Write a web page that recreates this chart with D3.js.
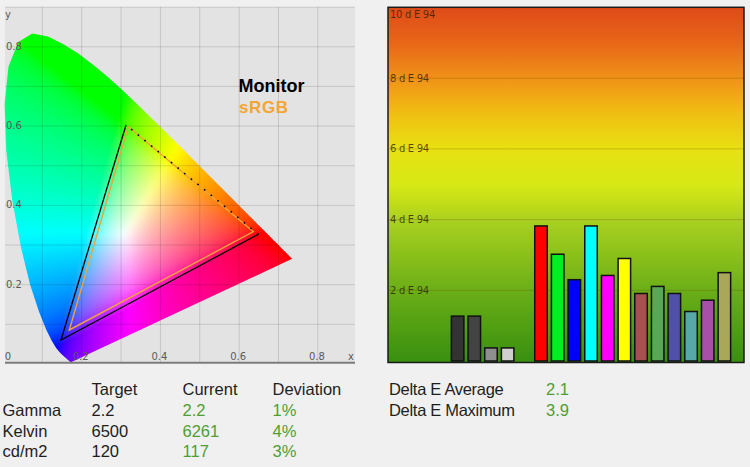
<!DOCTYPE html>
<html><head><meta charset="utf-8">
<script src="https://cdn.jsdelivr.net/npm/d3@7"></script>
<style>
html,body{margin:0;padding:0;background:#f0f0f0;}
svg{display:block;}
</style></head>
<body>
<svg id="c" width="750" height="467"></svg>
<script>
// ---------- DATA ----------
// CIE 1931 2° spectral locus (380–700 nm, 5 nm steps), x and y
const locusX = [0.1741,0.1740,0.1738,0.1736,0.1733,0.1730,0.1726,0.1721,0.1714,0.1703,0.1689,0.1669,0.1644,0.1611,0.1566,0.1510,0.1440,0.1355,0.1241,0.1096,0.0913,0.0687,0.0454,0.0235,0.0082,0.0039,0.0139,0.0389,0.0743,0.1142,0.1547,0.1929,0.2296,0.2658,0.3016,0.3373,0.3731,0.4087,0.4441,0.4788,0.5125,0.5448,0.5752,0.6029,0.6270,0.6482,0.6658,0.6801,0.6915,0.7006,0.7079,0.7140,0.7190,0.7230,0.7260,0.7283,0.7300,0.7311,0.7320,0.7327,0.7334,0.7340,0.7344,0.7346,0.7347];
const locusY = [0.0050,0.0050,0.0049,0.0049,0.0048,0.0048,0.0048,0.0048,0.0051,0.0058,0.0069,0.0086,0.0109,0.0138,0.0177,0.0227,0.0297,0.0399,0.0578,0.0868,0.1327,0.2007,0.2950,0.4127,0.5384,0.6548,0.7502,0.8120,0.8338,0.8262,0.8059,0.7816,0.7543,0.7243,0.6923,0.6589,0.6245,0.5896,0.5547,0.5202,0.4866,0.4544,0.4242,0.3965,0.3725,0.3514,0.3340,0.3197,0.3083,0.2993,0.2920,0.2859,0.2809,0.2770,0.2740,0.2717,0.2700,0.2689,0.2680,0.2673,0.2666,0.2660,0.2656,0.2654,0.2653];

// Gamut triangles (green, red, blue primaries)
const primaries = ["Green","Red","Blue"];
const monitorX = [0.3126,0.6488,0.1474];
const monitorY = [0.6028,0.3271,0.0605];
const srgbX = [0.3184,0.6361,0.1685];
const srgbY = [0.5985,0.3337,0.0858];

const cieTicks = [0.2,0.4,0.6,0.8];

// Delta E bars (slots, including empty gaps)
const deCategories = ["gap0","gap1","gap2","Gray 1","Gray 2","Gray 3","Gray 4","gap7","Red","Green","Blue","Cyan","Magenta","Yellow","Skin red","Skin green","Skin blue","Skin cyan","Skin magenta","Skin yellow"];
const deValues = [null,null,null,1.27,1.27,0.37,0.37,null,3.82,3.02,2.30,3.82,2.42,2.90,1.91,2.11,1.91,1.40,1.72,2.50];
const deTicks = [2,4,6,8,10];
const deTickLabels = ["2 d E 94","4 d E 94","6 d E 94","8 d E 94","10 d E 94"];

// Summary table
const tableHeaders = ["Target","Current","Deviation"];
const tableRows = ["Gamma","Kelvin","cd/m2"];
const targetVals = ["2.2","6500","120"];
const currentVals = ["2.2","6261","117"];
const deviationVals = ["1%","4%","3%"];
const deltaLabels = ["Delta E Average","Delta E Maximum"];
const deltaVals = ["2.1","3.9"];

// ---------- STYLES ----------
const barColors = {"Gray 1":"#333333","Gray 2":"#434343","Gray 3":"#8f8f8f","Gray 4":"#cfcfcf","Red":"#ff0000","Green":"#00ee22","Blue":"#0000ff","Cyan":"#00ffff","Magenta":"#ff00ff","Yellow":"#ffff00","Skin red":"#a85050","Skin green":"#58a858","Skin blue":"#5050a8","Skin cyan":"#58a8a8","Skin magenta":"#a850a8","Skin yellow":"#a8a858"};
const green = "#4f9e35";

const svg = d3.select("#c");
const defs = svg.append("defs");

// ---------- LEFT: CIE diagram ----------
const xs = d3.scaleLinear([0,0.9],[3,357.2]);
const ys = d3.scaleLinear([0,0.9],[364,7.15]);

svg.append("rect").attr("x",5).attr("y",7).attr("width",350).attr("height",356).attr("fill","#e3e3e3");

// Horseshoe colours rendered on a canvas
const W = 360, H = 370;
const cv = document.createElement("canvas");
cv.width = W; cv.height = H;
const cx = cv.getContext("2d");
const img = cx.createImageData(W,H);
function gam(c){ c = Math.max(0,Math.min(1,c)); return c<=0.0031308?12.92*c:1.055*Math.pow(c,1/2.4)-0.055; }
for (let py=0; py<H; py++){
  for (let px=0; px<W; px++){
    const x = Math.max(0.001, xs.invert(px+0.5)), y = Math.max(0.004, ys.invert(py+0.5));
    const X = x/y, Y = 1, Z = Math.max(0,(1-x-y))/y;
    let r = 3.2406*X -1.5372*Y -0.4986*Z;
    let g = -0.9689*X +1.8758*Y +0.0415*Z;
    let b = 0.0557*X -0.2040*Y +1.0570*Z;
    r = Math.max(0,r); g = Math.max(0,g); b = Math.max(0,b);
    const m = Math.max(r,g,b) || 1;
    const i = (py*W+px)*4;
    img.data[i] = 255*gam(r/m);
    img.data[i+1] = 255*gam(g/m);
    img.data[i+2] = 255*gam(b/m);
    img.data[i+3] = 255;
  }
}
cx.putImageData(img,0,0);

const locus = locusX.map((x,i)=>[x,locusY[i]]);
const locusLine = d3.line().x(d=>xs(d[0])).y(d=>ys(d[1])).curve(d3.curveLinearClosed);
defs.append("clipPath").attr("id","locusClip").append("path").attr("d",locusLine(locus));
const blur = defs.append("filter").attr("id","soft").attr("filterUnits","userSpaceOnUse")
  .attr("x",0).attr("y",0).attr("width",W).attr("height",H);
blur.append("feGaussianBlur").attr("stdDeviation",3.5).attr("edgeMode","duplicate");
svg.append("g").attr("clip-path","url(#locusClip)")
  .append("image").attr("x",0).attr("y",0).attr("width",W).attr("height",H)
  .attr("href",cv.toDataURL()).attr("filter","url(#soft)");

// Grid lines (over the colours)
const gridG = svg.append("g").attr("stroke","rgba(0,0,0,0.13)").attr("stroke-width",1);
d3.range(1,9).map(i=>i/10).forEach(v=>{
  gridG.append("line").attr("x1",xs(v)).attr("x2",xs(v)).attr("y1",7).attr("y2",362);
});
d3.range(1,10).map(i=>i/10).forEach(v=>{
  gridG.append("line").attr("x1",5).attr("x2",355).attr("y1",ys(v)).attr("y2",ys(v));
});
svg.append("line").attr("x1",5).attr("x2",355).attr("y1",362.7).attr("y2",362.7).attr("stroke","#7d7d7d").attr("stroke-width",2);

// Triangles
const lineP = d3.line().x(d=>xs(d[0])).y(d=>ys(d[1]));
const srgbPts = srgbX.map((x,i)=>[x,srgbY[i]]);
const monPts = monitorX.map((x,i)=>[x,monitorY[i]]);
svg.append("path").attr("d",lineP([...srgbPts,srgbPts[0]])).attr("fill","none").attr("stroke","#f0a23c").attr("stroke-width",1.4);
// monitor: green->blue->red solid, red->green dotted
svg.append("path").attr("d",lineP([monPts[0],monPts[2],monPts[1]])).attr("fill","none").attr("stroke","#000").attr("stroke-width",1.3);
svg.append("path").attr("d",lineP([monPts[1],monPts[0]])).attr("fill","none").attr("stroke","#000").attr("stroke-width",1.6).attr("stroke-dasharray","1.6,7");

// Labels
const lab = svg.append("g").attr("font-family","DejaVu Sans").attr("font-size",10).attr("fill","#5a5a5a");
cieTicks.forEach(v=>{
  lab.append("text").attr("x",xs(v)-1).attr("y",359.5).attr("text-anchor","middle").text(v.toFixed(1));
  lab.append("text").attr("x",6).attr("y",ys(v)+3).attr("text-anchor","start").text(v.toFixed(1));
});
lab.append("text").attr("x",xs(0)+5).attr("y",359.5).attr("text-anchor","middle").text("0");
lab.append("text").attr("x",351).attr("y",359.5).attr("text-anchor","middle").text("x");
lab.append("text").attr("x",8).attr("y",18).attr("text-anchor","middle").text("y");

svg.append("text").attr("x",238.5).attr("y",92).attr("font-family","Liberation Sans").attr("font-weight","bold").attr("font-size",18).attr("fill","#000").text("Monitor");
svg.append("text").attr("x",239).attr("y",112.5).attr("font-family","Liberation Sans").attr("font-weight","bold").attr("font-size",17).attr("letter-spacing",0.6).attr("fill","#f2a635").text("sRGB");

// ---------- RIGHT: Delta E bars ----------
const fx0 = 388, fx1 = 744, fy0 = 7.3, fy1 = 362.5;
const yb = d3.scaleLinear([0,10],[361,7.5]);
const xb = d3.scaleBand(deCategories,[397.2,734.8]).paddingInner(0.25).paddingOuter(0.25);

const grad = defs.append("linearGradient").attr("id","deGrad").attr("x1",0).attr("y1",0).attr("x2",0).attr("y2",1);
[[0,"#df4a18"],[0.1,"#e86618"],[0.2,"#f09218"],[0.3,"#f0bf12"],[0.4,"#e8e112"],[0.5,"#d6e916"],[0.55,"#c2dd18"],[0.6,"#aad020"],[0.7,"#8ac01a"],[0.8,"#6aae18"],[0.9,"#519f12"],[1,"#398f10"]]
  .forEach(s=>grad.append("stop").attr("offset",s[0]).attr("stop-color",s[1]));

svg.append("rect").attr("x",fx0).attr("y",fy0).attr("width",fx1-fx0).attr("height",fy1-fy0).attr("fill","url(#deGrad)");

const gG = svg.append("g");
deTicks.forEach((v,i)=>{
  if (v<10) gG.append("line").attr("x1",fx0).attr("x2",fx1).attr("y1",yb(v)).attr("y2",yb(v)).attr("stroke","rgba(90,50,0,0.22)").attr("stroke-width",1);
  gG.append("text").attr("x",390).attr("y",Math.max(yb(v),14)+3.5).attr("font-family","DejaVu Sans").attr("font-size",10)
    .attr("fill","rgba(45,30,0,0.78)").attr("letter-spacing",-0.3).text(deTickLabels[i]);
});

const barData = deCategories.map((c,i)=>({c, v:deValues[i]})).filter(d=>d.v!=null);
svg.append("g").selectAll("rect").data(barData).join("rect")
  .attr("x",d=>xb(d.c)).attr("width",xb.bandwidth())
  .attr("y",d=>yb(d.v)).attr("height",d=>yb(0)-yb(d.v))
  .attr("fill",d=>barColors[d.c]).attr("stroke","#111").attr("stroke-width",1.5);

svg.append("rect").attr("x",fx0).attr("y",fy0).attr("width",fx1-fx0).attr("height",fy1-fy0).attr("fill","none").attr("stroke","#1a1a1a").attr("stroke-width",1.5);

// ---------- Summary text ----------
const tg = svg.append("g").attr("font-family","Liberation Sans").attr("font-size",16.5);
const colX = [91.5,182.5,272.5];
const rowY = [416,436.5,457];
tableHeaders.forEach((h,i)=>tg.append("text").attr("x",colX[i]).attr("y",395).attr("fill","#1e1e1e").text(h));
tableRows.forEach((r,i)=>{
  tg.append("text").attr("x",2.5).attr("y",rowY[i]).attr("fill","#1e1e1e").text(r);
  tg.append("text").attr("x",colX[0]).attr("y",rowY[i]).attr("fill","#1e1e1e").text(targetVals[i]);
  tg.append("text").attr("x",colX[1]).attr("y",rowY[i]).attr("fill",green).text(currentVals[i]);
  tg.append("text").attr("x",colX[2]).attr("y",rowY[i]).attr("fill",green).text(deviationVals[i]);
});
deltaLabels.forEach((d,i)=>{
  tg.append("text").attr("x",389).attr("y",[395,416][i]).attr("fill","#1e1e1e").attr("letter-spacing",-0.3).text(d);
  tg.append("text").attr("x",546).attr("y",[395,416][i]).attr("fill",green).text(deltaVals[i]);
});
</script>
</body></html>
